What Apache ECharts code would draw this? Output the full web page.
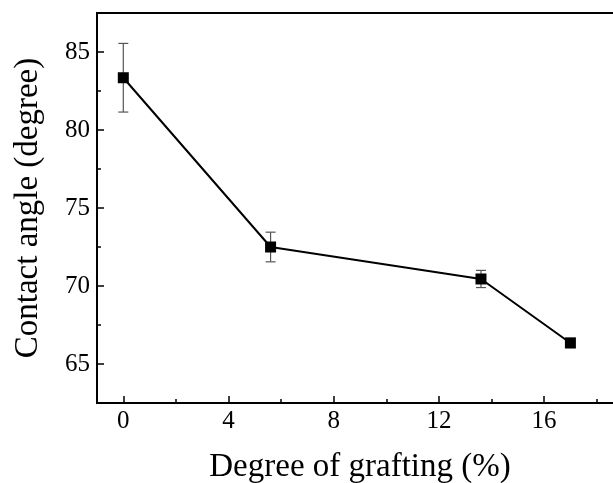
<!DOCTYPE html>
<html>
<head>
<meta charset="utf-8">
<script src="https://cdn.jsdelivr.net/npm/echarts@6/dist/echarts.min.js"></script>
<style>html,body{margin:0;padding:0;background:#fff;}#c{width:613px;height:483px;}</style>
</head>
<body>
<div id="c"></div>
<script>
// Data
var xValues = [0, 5.6, 13.6, 17.0];
var yValues = [83.35, 72.5, 70.45, 66.35];
var yErrors = [2.2, 0.95, 0.55, 0.3];

var xTickLabels = [0, 4, 8, 12, 16];
var xMinorTicks = [2, 6, 10, 14, 18];
var yTickLabels = [65, 70, 75, 80, 85];
var yMinorTicks = [67.5, 72.5, 77.5, 82.5];

var xTitle = 'Degree of grafting (%)';
var yTitle = 'Contact angle (degree)';

var FONT = 'Liberation Serif';
var chart = echarts.init(document.getElementById('c'), null, {renderer: 'canvas'});

var lineData = xValues.map(function (x, i) { return [x, yValues[i]]; });
var errData = xValues.map(function (x, i) { return [x, yValues[i], yErrors[i]]; });

var option = {
  backgroundColor: '#fff',
  animation: false,
  grid: {left: 97, top: 13, width: 526, height: 390, show: true, borderColor: '#000', borderWidth: 2,
         backgroundColor: 'transparent', containLabel: false, outerBoundsMode: 'none'},
  xAxis: [{
    type: 'value', min: -1, max: 19, position: 'bottom',
    name: xTitle, nameLocation: 'middle', nameGap: 48,
    nameTextStyle: {fontFamily: FONT, fontSize: 33, color: '#000'},
    axisLine: {show: true, onZero: false, lineStyle: {color: '#000', width: 2}},
    axisTick: {show: true, inside: true, length: 7, lineStyle: {color: '#000', width: 1.5}, customValues: xTickLabels},
    axisLabel: {show: true, margin: 6, fontFamily: FONT, fontSize: 25, color: '#000', customValues: xTickLabels},
    splitLine: {show: false}
  }, {
    type: 'value', min: -1, max: 19, position: 'bottom',
    axisLine: {show: false, onZero: false},
    axisTick: {show: true, inside: true, length: 4, lineStyle: {color: '#000', width: 1.5}, customValues: xMinorTicks},
    axisLabel: {show: false},
    splitLine: {show: false}
  }],
  yAxis: [{
    type: 'value', min: 62.5, max: 87.5, position: 'left',
    name: yTitle, nameLocation: 'middle', nameGap: 52,
    nameTextStyle: {fontFamily: FONT, fontSize: 33, color: '#000'},
    axisLine: {show: true, onZero: false, lineStyle: {color: '#000', width: 2}},
    axisTick: {show: true, inside: true, length: 7, lineStyle: {color: '#000', width: 1.5}, customValues: yTickLabels},
    axisLabel: {show: true, margin: 7, fontFamily: FONT, fontSize: 25, color: '#000', customValues: yTickLabels},
    splitLine: {show: false}
  }, {
    type: 'value', min: 62.5, max: 87.5, position: 'left',
    axisLine: {show: false, onZero: false},
    axisTick: {show: true, inside: true, length: 4, lineStyle: {color: '#000', width: 1.5}, customValues: yMinorTicks},
    axisLabel: {show: false},
    splitLine: {show: false}
  }],
  series: [{
    type: 'custom',
    xAxisIndex: 0, yAxisIndex: 0,
    z: 1,
    data: errData,
    renderItem: function (params, api) {
      var x = api.value(0), y = api.value(1), e = api.value(2);
      var top = api.coord([x, y + e]);
      var bot = api.coord([x, y - e]);
      var hw = 5;
      var st = {stroke: '#555', lineWidth: 1.2};
      return {
        type: 'group',
        children: [
          {type: 'line', shape: {x1: top[0], y1: top[1], x2: bot[0], y2: bot[1]}, style: st},
          {type: 'line', shape: {x1: top[0] - hw, y1: top[1], x2: top[0] + hw, y2: top[1]}, style: st},
          {type: 'line', shape: {x1: bot[0] - hw, y1: bot[1], x2: bot[0] + hw, y2: bot[1]}, style: st}
        ]
      };
    }
  }, {
    type: 'line',
    xAxisIndex: 0, yAxisIndex: 0,
    z: 2,
    data: lineData,
    symbol: 'rect', symbolSize: 11,
    itemStyle: {color: '#000'},
    lineStyle: {color: '#000', width: 2}
  }]
};
chart.setOption(option);
</script>
</body>
</html>
